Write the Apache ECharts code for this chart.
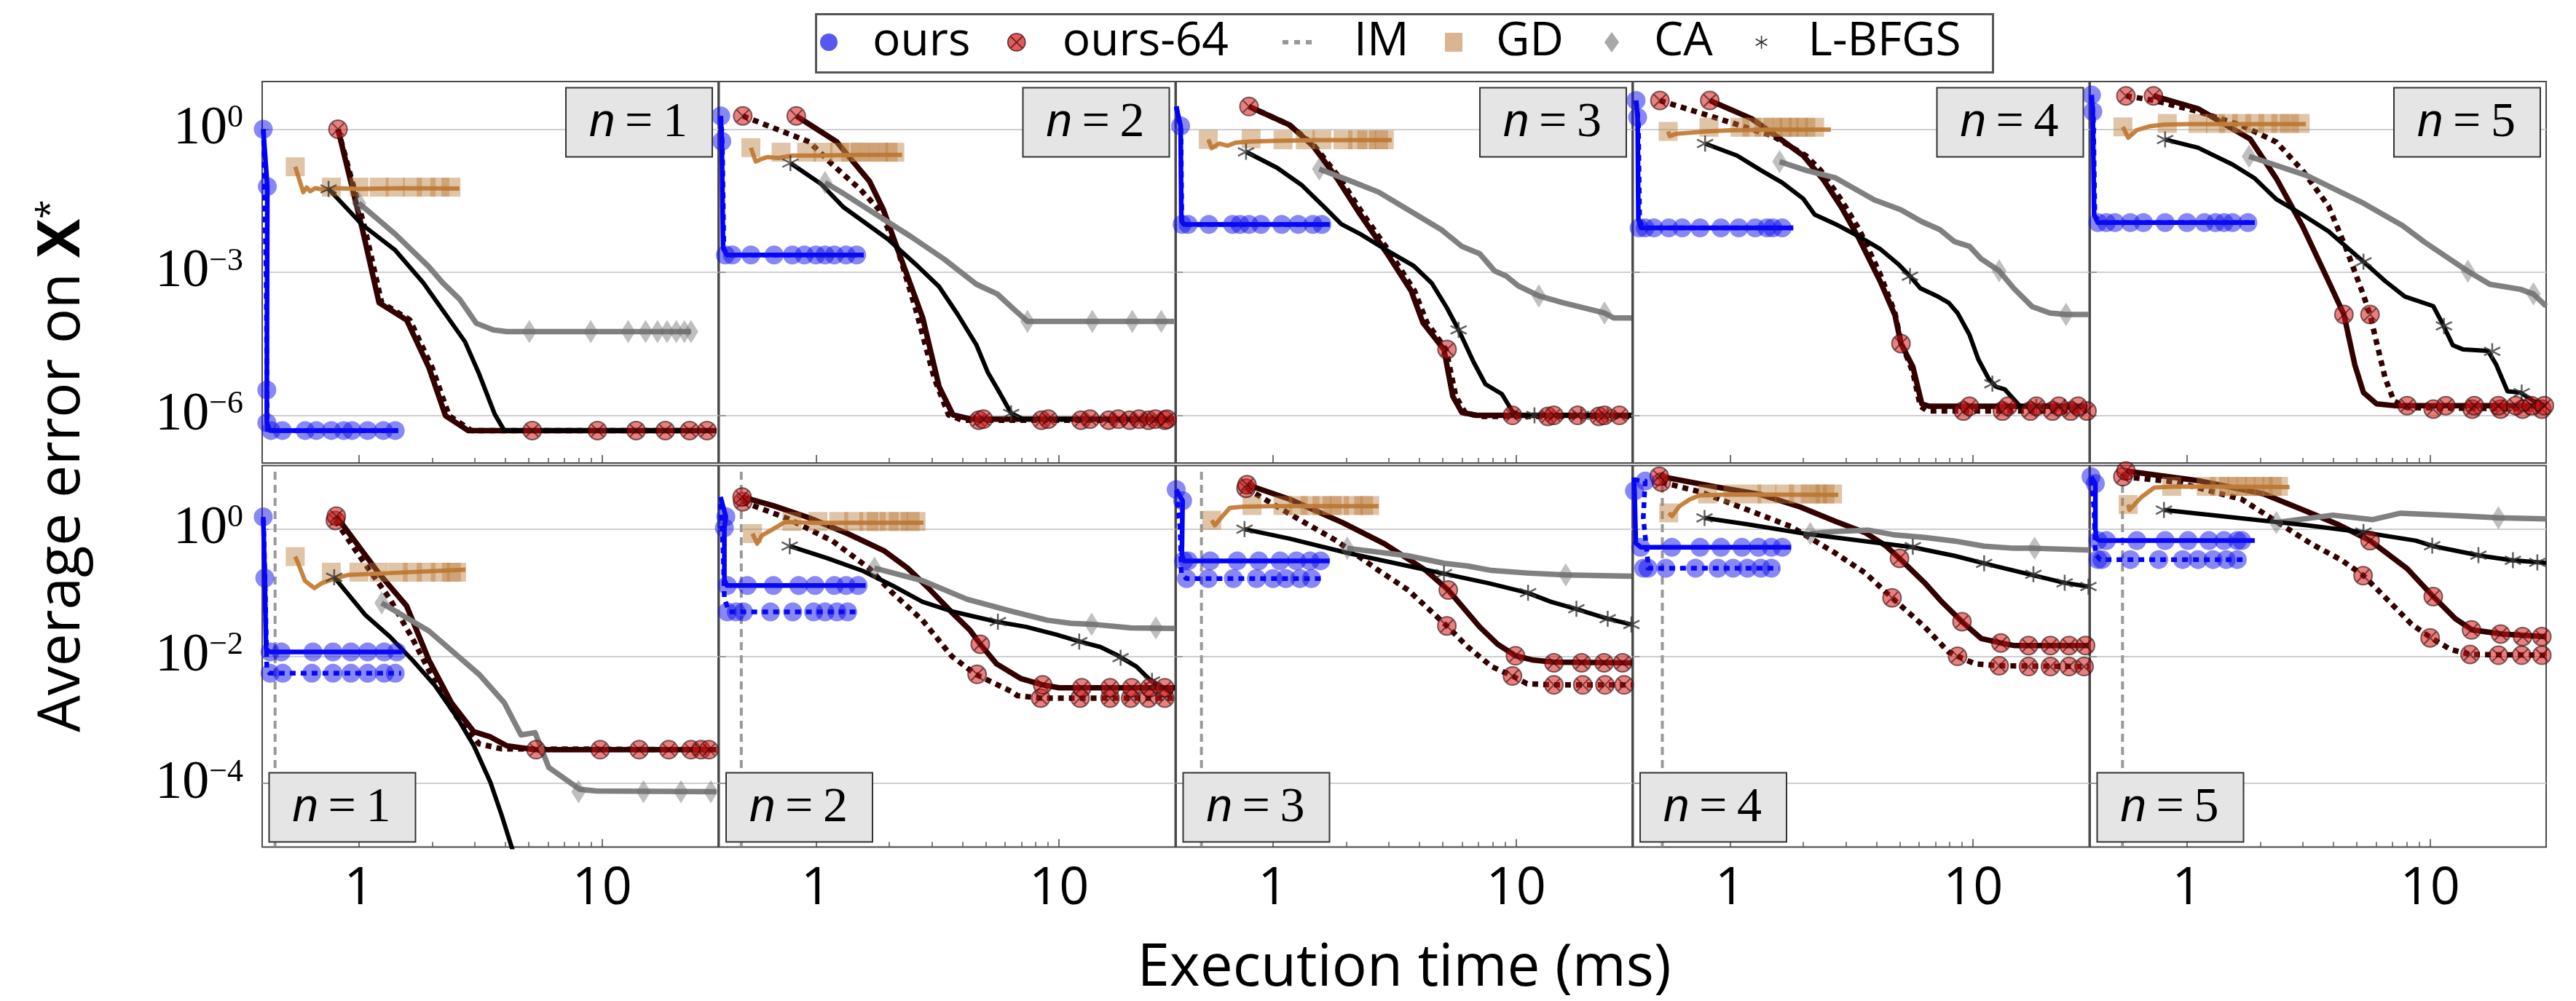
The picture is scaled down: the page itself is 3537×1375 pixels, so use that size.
<!DOCTYPE html>
<html><head><meta charset="utf-8">
<script src="https://cdn.jsdelivr.net/npm/echarts@6/dist/echarts.min.js"></script>
<style>html,body{margin:0;padding:0;background:#fff}#c{width:3537px;height:1375px}</style>
</head><body><div id="c"></div>
<script>
// ---------------- axes ----------------
const xMajorTicks = [1, 10];
const xMinorTicks = [2, 3, 4, 5, 6, 7, 8, 9];
const yTicksTop = [1, 1e-3, 1e-6];
const yTicksBottom = [1, 1e-2, 1e-4];
const panelLabels = ['1', '2', '3', '4', '5'];
const legendNames = ['ours', 'ours-64', 'IM', 'GD', 'CA', 'L-BFGS'];

// ---------------- top row, n = 1 ----------------
const t1_ours = [[0.404,1],[0.42,0.063],[0.418,3.4e-6],[0.418,7e-7],[0.43,4.8e-7],[1.45,4.8e-7]];
const t1_ours_mk = [[0.404,1],[0.42,0.063],[0.418,3.4e-6],[0.418,7e-7],[0.435,4.8e-7],[0.484,4.8e-7],[0.601,4.8e-7],[0.668,4.8e-7],[0.77,4.8e-7],[0.865,4.8e-7],[0.937,4.8e-7],[1.086,4.8e-7],[1.26,4.8e-7],[1.41,4.8e-7]];
const t1_oursD = [[0.405,1],[0.415,1e-3],[0.42,5e-7],[0.45,4.8e-7],[1.45,4.8e-7]];
const t1_oursD_mk = [];
const t1_o64 = [[0.82,1],[1.03,8.5e-3],[1.21,2.3e-4],[1.57,1e-4],[1.94,1e-5],[2.27,9.8e-7],[2.81,4.8e-7],[29.5,4.8e-7]];
const t1_o64_mk = [[0.82,1],[5.16,4.8e-7],[9.57,4.8e-7],[13.8,4.8e-7],[18.2,4.8e-7],[22.9,4.8e-7],[27,4.8e-7]];
const t1_o64D = [[0.82,1],[1.06,8e-3],[1.24,2.3e-4],[1.62,1e-4],[2.0,1e-5],[2.35,9.8e-7],[2.9,4.8e-7],[29.5,4.8e-7]];
const t1_o64D_mk = [];
const t1_gd = [[0.547,0.163],[0.59,0.048],[0.61,0.06],[0.63,0.05],[0.66,0.058],[0.72,0.054],[0.8,0.058],[1.0,0.056],[1.5,0.058],[2.59,0.057]];
const t1_gd_mk = [[0.547,0.163],[0.77,0.061],[1.0,0.061],[1.21,0.061],[1.41,0.061],[1.66,0.061],[1.89,0.061],[2.15,0.061],[2.39,0.061]];
const t1_ca = [[1.0,0.028],[1.41,6.3e-3],[1.94,1.3e-3],[2.21,6e-4],[2.59,2.75e-4],[3.04,8.5e-5],[3.56,6.2e-5],[4.06,5.7e-5],[23.2,5.7e-5]];
const t1_ca_mk = [[1.0,0.028],[5.02,5.7e-5],[8.98,5.7e-5],[12.8,5.7e-5],[15.1,5.7e-5],[16.9,5.7e-5],[18.5,5.7e-5],[20.2,5.7e-5],[21.8,5.7e-5],[23.2,5.7e-5]];
const t1_lb = [[0.75,0.056],[1.03,0.01],[1.41,2.9e-3],[1.84,6e-4],[2.73,3.5e-5],[3.12,7.4e-6],[3.62,1.05e-6],[3.96,4.8e-7],[29.5,4.8e-7]];
const t1_lb_mk = [[0.75,0.056]];

// ---------------- top row, n = 2 ----------------
const t2_ours = [[0.406,1.9],[0.41,0.56],[0.415,3.2e-3],[0.43,2.3e-3],[1.57,2.3e-3]];
const t2_ours_mk = [[0.406,1.9],[0.41,0.56],[0.424,2.3e-3],[0.453,2.3e-3],[0.54,2.3e-3],[0.673,2.3e-3],[0.8,2.3e-3],[0.896,2.3e-3],[1.0,2.3e-3],[1.09,2.3e-3],[1.19,2.3e-3],[1.33,2.3e-3],[1.47,2.3e-3]];
const t2_oursD = [[0.406,1.9],[0.412,0.5],[0.418,3e-3],[0.44,2.3e-3],[1.57,2.3e-3]];
const t2_oursD_mk = [];
const t2_o64 = [[0.83,1.9],[1.22,0.54],[1.39,0.24],[1.66,0.081],[1.89,0.021],[2.16,3.2e-3],[2.75,1.1e-4],[3.21,4e-6],[3.66,1.02e-6],[4.37,8.3e-7],[29.7,8.3e-7]];
const t2_o64_mk = [[0.83,1.9],[4.88,8.3e-7],[9.03,8.3e-7],[13.4,8.3e-7],[17.5,8.3e-7],[21.3,8.3e-7],[24.9,8.3e-7],[27.8,8.3e-7]];
const t2_o64D = [[0.5,1.9],[0.94,0.54],[1.17,0.18],[1.52,0.055],[1.81,0.021],[2.16,3.2e-3],[2.57,1.7e-4],[3.07,5.9e-6],[3.51,1.02e-6],[4.0,7.9e-7],[29.7,7.9e-7]];
const t2_o64D_mk = [[0.5,1.9],[4.67,7.9e-7],[8.46,7.9e-7],[12.3,7.9e-7],[16.0,7.9e-7],[19.5,7.9e-7],[23.3,7.9e-7],[27.2,7.9e-7]];
const t2_gd = [[0.54,0.41],[0.565,0.21],[0.6,0.24],[0.63,0.26],[0.7,0.25],[0.8,0.28],[1.0,0.28],[1.5,0.29],[2.26,0.29]];
const t2_gd_mk = [[0.54,0.41],[0.719,0.33],[0.916,0.33],[1.07,0.33],[1.25,0.33],[1.39,0.33],[1.52,0.33],[1.66,0.33],[1.81,0.33],[1.98,0.33],[2.11,0.33]];
const t2_ca = [[1.09,0.076],[1.27,0.048],[2.47,5.5e-3],[3.36,1.9e-3],[4.57,5.6e-4],[5.57,3.5e-4],[6.5,1.7e-4],[7.41,9.3e-5],[29.7,9.3e-5]];
const t2_ca_mk = [[1.09,0.076],[7.41,9.3e-5],[13.7,9.3e-5],[20,9.3e-5],[26.3,9.3e-5]];
const t2_lb = [[0.785,0.195],[1.05,0.071],[1.3,0.023],[1.98,4.9e-3],[2.58,1.45e-3],[3.21,5e-4],[3.83,1.3e-4],[4.57,3e-5],[5.1,7.8e-6],[5.69,3e-6],[6.35,1.1e-6],[7.1,8.3e-7],[29.7,8.3e-7]];
const t2_lb_mk = [[0.785,0.195],[6.35,1.1e-6]];

// ---------------- top row, n = 3 ----------------
const t3_ours = [[0.40,3.0],[0.417,1.17],[0.42,0.012],[0.43,0.0101],[1.71,0.0101]];
const t3_ours_mk = [[0.417,1.17],[0.423,0.0101],[0.448,0.0101],[0.545,0.0101],[0.682,0.0101],[0.732,0.0101],[0.797,0.0101],[0.892,0.0101],[1.087,0.0101],[1.27,0.0101],[1.46,0.0101],[1.59,0.0101]];
const t3_oursD = [[0.40,3.0],[0.418,1.0],[0.422,0.012],[0.44,0.0101],[1.71,0.0101]];
const t3_oursD_mk = [];
const t3_o64 = [[0.797,3.0],[1.17,1.23],[1.46,0.45],[1.83,0.095],[2.29,0.016],[2.95,2.45e-3],[3.7,4.1e-4],[4.14,8.7e-5],[5.05,2.4e-5],[5.49,2.5e-6],[5.98,1.15e-6],[6.88,1.0e-6],[29.8,1.0e-6]];
const t3_o64_mk = [[0.797,3.0],[5.2,2.4e-5],[9.66,1e-6],[14.3,1e-6],[17.9,1e-6],[23.1,1e-6],[26.6,1e-6]];
const t3_o64D = [[0.797,3.0],[1.17,1.23],[1.48,0.45],[1.88,0.095],[2.36,0.016],[3.05,2.45e-3],[3.82,4.1e-4],[4.3,8.7e-5],[5.15,2.4e-5],[5.65,2.5e-6],[6.2,1.1e-6],[7.2,9.5e-7],[29.8,9.5e-7]];
const t3_o64D_mk = [[13.5,9.5e-7],[21.9,9.5e-7]];
const t3_gd = [[0.542,0.61],[0.56,0.4],[0.6,0.5],[0.65,0.45],[0.7,0.52],[0.8,0.55],[1.0,0.57],[1.5,0.59],[3.08,0.59]];
const t3_gd_mk = [[0.542,0.61],[0.813,0.63],[1.1,0.6],[1.36,0.6],[1.59,0.6],[1.94,0.6],[2.23,0.6],[2.43,0.6],[2.72,0.6],[2.87,0.6]];
const t3_ca = [[1.55,0.146],[2.05,0.085],[2.72,0.048],[3.6,0.0204],[4.91,7.9e-3],[5.98,3.5e-3],[7.08,2.45e-3],[8.15,1.07e-3],[9.12,8.3e-4],[10.2,5.2e-4],[12.4,3.2e-4],[15.6,2.3e-4],[23.1,1.4e-4],[25.2,1.1e-4],[29.8,1.1e-4]];
const t3_ca_mk = [[1.55,0.146],[12.4,3.2e-4],[23.1,1.4e-4]];
const t3_lb = [[0.775,0.336],[1.04,0.155],[1.31,0.068],[1.63,0.023],[1.91,0.0102],[2.29,6.3e-3],[2.87,3.1e-3],[3.8,1.35e-3],[4.5,5.9e-4],[5.19,1.8e-4],[5.8,6.2e-5],[6.69,1.3e-5],[7.48,4.5e-6],[8.74,2.8e-6],[9.66,1.2e-6],[10.5,1e-6],[29.8,1e-6]];
const t3_lb_mk = [[0.775,0.336],[5.8,6.2e-5],[11.9,1e-6],[18.5,1e-6],[23.8,1e-6]];

// ---------------- top row, n = 4 ----------------
const t4_ours = [[0.411,4.0],[0.417,1.77],[0.42,0.013],[0.43,8.5e-3],[1.82,8.5e-3]];
const t4_ours_mk = [[0.411,4.0],[0.417,1.77],[0.423,8.5e-3],[0.448,8.5e-3],[0.487,8.5e-3],[0.56,8.5e-3],[0.636,8.5e-3],[0.753,8.5e-3],[0.918,8.5e-3],[1.087,8.5e-3],[1.27,8.5e-3],[1.42,8.5e-3],[1.5,8.5e-3],[1.64,8.5e-3]];
const t4_oursD = [[0.411,4.0],[0.42,1.5],[0.425,0.012],[0.44,8.5e-3],[1.82,8.5e-3]];
const t4_oursD_mk = [];
const t4_o64 = [[0.826,4.0],[1.23,1.66],[1.55,0.72],[2.0,0.28],[2.43,0.085],[2.87,0.0234],[3.4,5e-3],[4.14,6.6e-4],[4.77,1.26e-4],[5.05,3.2e-5],[5.65,1.05e-5],[6.15,1.74e-6],[6.6,1.55e-6],[29.4,1.55e-6]];
const t4_o64_mk = [[0.826,4.0],[5.05,3.2e-5],[9.66,1.55e-6],[13.9,1.55e-6],[18.2,1.55e-6],[22.5,1.55e-6],[27.0,1.55e-6]];
const t4_o64D = [[0.515,4.0],[1.01,1.38],[1.5,0.72],[2.05,0.28],[2.36,0.138],[2.87,0.033],[3.4,7.9e-3],[4.14,9.3e-4],[4.77,1.4e-4],[5.05,3.4e-5],[5.65,8.1e-6],[6.07,1.55e-6],[6.5,1.23e-6],[29.4,1.23e-6]];
const t4_o64D_mk = [[0.515,4.0],[9.12,1.23e-6],[13.2,1.23e-6],[17.2,1.23e-6],[21.2,1.23e-6],[25.2,1.23e-6],[29.4,1.23e-6]];
const t4_gd = [[0.557,0.9],[0.565,0.72],[0.6,0.8],[0.7,0.85],[0.8,0.9],[1.0,0.95],[1.5,0.98],[2.6,0.98]];
const t4_gd_mk = [[0.557,0.9],[0.82,1.1],[1.1,1.1],[1.23,1.1],[1.38,1.1],[1.5,1.1],[1.64,1.1],[1.75,1.1],[1.91,1.1],[2.05,1.1],[2.23,1.1]];
const t4_ca = [[1.6,0.209],[2.05,0.138],[2.72,0.095],[3.92,0.033],[5.05,0.0204],[6.15,0.0115],[7.28,7.9e-3],[8.38,4.4e-3],[9.66,3.5e-3],[10.8,1.9e-3],[12.8,1.07e-3],[14.7,4.6e-4],[17.5,1.9e-4],[20.7,1.4e-4],[24.1,1.3e-4],[29.8,1.3e-4]];
const t4_ca_mk = [[1.6,0.209],[12.8,1.07e-3],[24.1,1.3e-4]];
const t4_lb = [[0.79,0.5],[1.07,0.28],[1.34,0.138],[1.64,0.076],[2.0,0.035],[2.23,0.0162],[2.72,0.0102],[3.4,5.6e-3],[4.14,3.1e-3],[4.91,1.5e-3],[5.5,8.3e-4],[6.07,4.6e-4],[7.08,3.2e-4],[7.93,2.3e-4],[8.63,1.4e-4],[9.66,4.9e-5],[10.5,1.5e-5],[11.6,5.8e-6],[12.4,4e-6],[13.5,3.5e-6],[15.6,1.55e-6],[29.4,1.5e-6]];
const t4_lb_mk = [[0.79,0.5],[5.5,8.3e-4],[12.0,4.6e-6],[18.2,1.5e-6],[23.8,1.5e-6]];

// ---------------- top row, n = 5 ----------------
const t5_ours = [[0.405,5.2],[0.41,2.35],[0.415,0.016],[0.43,0.011],[1.9,0.011]];
const t5_ours_mk = [[0.405,5.2],[0.41,2.35],[0.43,0.011],[0.466,0.011],[0.506,0.011],[0.585,0.011],[0.662,0.011],[0.813,0.011],[1.0,0.011],[1.18,0.011],[1.31,0.011],[1.42,0.011],[1.54,0.011],[1.78,0.011]];
const t5_oursD = [[0.405,5.2],[0.412,2.0],[0.418,0.015],[0.44,0.011],[1.9,0.011]];
const t5_oursD_mk = [];
const t5_o64 = [[0.728,5.0],[1.11,2.7],[1.82,0.62],[2.33,0.093],[2.98,9.5e-3],[3.82,6.5e-4],[4.42,1.3e-4],[4.9,1.15e-5],[5.32,3e-6],[6.02,1.74e-6],[7.1,1.6e-6],[29.5,1.6e-6]];
const t5_o64_mk = [[0.728,5.0],[4.42,1.3e-4],[8.04,1.6e-6],[11.6,1.6e-6],[15.2,1.6e-6],[19.1,1.6e-6],[22.5,1.6e-6],[26.1,1.6e-6],[29.5,1.6e-6]];
const t5_o64D = [[0.561,5.0],[0.734,4.0],[1.11,2.35],[1.68,1.2],[2.33,0.54],[2.98,0.138],[3.82,0.0245],[4.51,3.2e-3],[5.32,3.3e-4],[5.66,1.3e-4],[6.02,3.4e-5],[6.54,5.9e-6],[7.1,2e-6],[8.04,1.45e-6],[29.5,1.35e-6]];
const t5_o64D_mk = [[0.561,5.0],[5.66,1.3e-4],[10.3,1.35e-6],[14.9,1.35e-6],[19.5,1.35e-6],[24.0,1.35e-6],[28.8,1.35e-6]];
const t5_gd = [[0.545,1.12],[0.573,0.66],[0.62,0.95],[0.7,1.15],[0.8,1.25],[1.0,1.28],[3.08,1.28]];
const t5_gd_mk = [[0.545,1.12],[0.83,1.32],[1.11,1.32],[1.31,1.32],[1.48,1.32],[1.68,1.32],[1.9,1.32],[2.15,1.32],[2.43,1.32],[2.64,1.32],[2.92,1.32]];
const t5_ca = [[1.8,0.27],[3.11,0.107],[5.32,0.028],[7.71,9.5e-3],[9.48,4.3e-3],[14.3,1.05e-3],[17.6,5.6e-4],[23.5,4.4e-4],[26.6,3.5e-4],[30,1.95e-4]];
const t5_ca_mk = [[1.8,0.27],[14.3,1.05e-3],[26.6,3.5e-4]];
const t5_lb = [[0.813,0.61],[1.11,0.41],[1.54,0.182],[1.9,0.093],[2.33,0.034],[2.98,0.0162],[3.82,7.2e-3],[5.32,1.66e-3],[6.54,6.5e-4],[7.87,3.1e-4],[10.3,1.95e-4],[11.2,8.7e-5],[12.4,2.95e-5],[13.7,2.4e-5],[17.3,2.25e-5],[18.7,1.15e-5],[20.8,3.2e-6],[23.5,3e-6],[26.6,2e-6],[30,1.6e-6]];
const t5_lb_mk = [[0.813,0.61],[5.32,1.66e-3],[11.4,7.5e-5],[18.0,2.2e-5],[23.8,3e-6]];

// ---------------- bottom row, n = 1 ----------------
const b1_im = [[0.452,8],[0.452,1e-5]];
const b1_ours = [[0.404,1.56],[0.41,0.17],[0.415,0.013],[0.43,0.0117],[1.51,0.0117]];
const b1_ours_mk = [[0.404,1.56],[0.41,0.17],[0.431,0.0117],[0.479,0.0117],[0.647,0.0117],[0.782,0.0117],[0.927,0.0117],[1.086,0.0117],[1.27,0.0117],[1.43,0.0117]];
const b1_oursD = [[0.405,1.4],[0.412,0.1],[0.418,6e-3],[0.43,5.4e-3],[1.49,5.4e-3]];
const b1_oursD_mk = [[0.431,5.4e-3],[0.486,5.4e-3],[0.64,5.4e-3],[0.782,5.4e-3],[0.927,5.4e-3],[1.086,5.4e-3],[1.27,5.4e-3],[1.41,5.4e-3]];
const b1_o64 = [[0.807,1.6],[1.21,0.2],[1.57,0.062],[1.94,8.7e-3],[2.4,1.86e-3],[2.97,6.5e-4],[3.47,5.4e-4],[4.06,3.9e-4],[5.3,3.4e-4],[29.5,3.4e-4]];
const b1_o64_mk = [[0.807,1.6],[5.35,3.4e-4],[9.82,3.4e-4],[14.2,3.4e-4],[18.8,3.4e-4],[23.2,3.4e-4],[25.5,3.4e-4],[27.5,3.4e-4]];
const b1_o64D = [[0.8,1.37],[0.977,0.44],[1.34,0.08],[1.66,0.019],[2.05,4e-3],[2.53,1.1e-3],[3.12,4.2e-4],[3.86,3.5e-4],[29.5,3.4e-4]];
const b1_o64D_mk = [[0.8,1.37]];
const b1_gd = [[0.547,0.37],[0.56,0.3],[0.6,0.154],[0.656,0.118],[0.7,0.14],[0.79,0.166],[0.9,0.19],[1.2,0.2],[2.74,0.23]];
const b1_gd_mk = [[0.547,0.37],[0.77,0.21],[1.0,0.21],[1.21,0.21],[1.45,0.21],[1.66,0.21],[1.89,0.21],[2.16,0.21],[2.4,0.21],[2.52,0.21]];
const b1_ca = [[1.24,0.069],[1.94,0.025],[3.12,5.2e-3],[3.96,1.86e-3],[4.64,5.8e-4],[5.3,6.3e-4],[6.04,1.78e-4],[8.08,8.1e-5],[9.47,7.6e-5],[29.5,7.4e-5]];
const b1_ca_mk = [[1.24,0.069],[8.0,7.4e-5],[14.8,7.4e-5],[21.1,7.4e-5],[28.0,7.4e-5]];
const b1_lb = [[0.791,0.175],[1.06,0.045],[1.34,0.0204],[1.66,8.7e-3],[2.05,3.5e-3],[2.53,1.1e-3],[2.97,3.9e-4],[3.47,1.05e-4],[3.86,3.2e-5],[4.24,1.02e-5],[4.52,4.7e-6]];
const b1_lb_mk = [[0.791,0.175]];

// ---------------- bottom row, n = 2 ----------------
const b2_im = [[0.493,8],[0.493,1e-5]];
const b2_ours = [[0.405,3.2],[0.426,1.57],[0.42,1.05],[0.42,0.16],[0.43,0.13],[1.6,0.13]];
const b2_ours_mk = [[0.426,1.57],[0.42,1.05],[0.432,0.13],[0.522,0.13],[0.668,0.13],[0.849,0.13],[0.991,0.13],[1.19,0.13],[1.33,0.13],[1.49,0.13]];
const b2_oursD = [[0.405,2.5],[0.415,0.5],[0.42,0.08],[0.44,0.05],[1.47,0.05]];
const b2_oursD_mk = [[0.432,0.05],[0.47,0.05],[0.504,0.05],[0.65,0.05],[0.803,0.05],[0.978,0.05],[1.09,0.05],[1.22,0.05],[1.35,0.05]];
const b2_o64 = [[0.497,3.2],[0.668,2.34],[0.937,1.51],[1.35,0.85],[1.9,0.46],[2.38,0.245],[2.89,0.12],[3.62,0.049],[4.29,0.026],[4.74,0.0155],[5.53,7.6e-3],[6.93,4.5e-3],[8.56,3.55e-3],[10.0,3.2e-3],[30,3.2e-3]];
const b2_o64_mk = [[0.497,3.2],[4.74,0.0155],[8.56,3.55e-3],[12.4,3.2e-3],[16.2,3.2e-3],[19.9,3.2e-3],[23.6,3.2e-3],[27.2,3.2e-3]];
const b2_o64D = [[0.5,2.7],[0.77,1.45],[1.17,0.65],[1.65,0.245],[2.06,0.1],[2.74,0.037],[3.62,0.01],[4.54,5.2e-3],[6.37,2.8e-3],[6.74,2.4e-3],[8.45,2.2e-3],[30,2.2e-3]];
const b2_o64D_mk = [[0.5,2.7],[4.6,5.2e-3],[8.4,2.2e-3],[12.2,2.2e-3],[16.2,2.2e-3],[19.7,2.2e-3],[23.3,2.2e-3],[27.2,2.2e-3]];
const b2_gd = [[0.548,0.85],[0.573,0.59],[0.6,0.8],[0.65,0.95],[0.748,1.3],[1.0,1.25],[2.77,1.26]];
const b2_gd_mk = [[0.548,0.85],[0.796,1.32],[1.02,1.32],[1.24,1.32],[1.43,1.32],[1.65,1.32],[1.77,1.32],[2.0,1.32],[2.18,1.32],[2.44,1.32],[2.58,1.32]];
const b2_ca = [[1.74,0.243],[2.74,0.155],[4.18,0.079],[6.37,0.051],[8.93,0.037],[11.2,0.033],[13.6,0.032],[19.7,0.028],[30,0.0275]];
const b2_ca_mk = [[1.74,0.243],[13.6,0.032],[25.0,0.028]];
const b2_lb = [[0.78,0.54],[1.11,0.35],[1.56,0.22],[2.06,0.13],[2.74,0.072],[3.62,0.051],[5.53,0.035],[7.33,0.029],[9.72,0.022],[12.2,0.017],[14.8,0.014],[17.1,0.0107],[20.8,6.9e-3],[23.9,4.1e-3],[29.2,2.6e-3]];
const b2_lb_mk = [[0.78,0.54],[5.6,0.035],[12.1,0.017],[17.9,9.5e-3],[24.1,4.1e-3]];

// ---------------- bottom row, n = 3 ----------------
const b3_im = [[0.508,8],[0.508,1e-5]];
const b3_ours = [[0.40,4.2],[0.425,2.8],[0.422,0.4],[0.43,0.317],[1.71,0.317]];
const b3_ours_mk = [[0.40,4.2],[0.425,2.8],[0.429,0.317],[0.448,0.317],[0.552,0.317],[0.713,0.317],[0.875,0.317],[1.07,0.317],[1.25,0.317],[1.42,0.317],[1.57,0.317]];
const b3_oursD = [[0.402,4.0],[0.415,1.0],[0.42,0.2],[0.44,0.167],[1.62,0.167]];
const b3_oursD_mk = [[0.441,0.167],[0.542,0.167],[0.687,0.167],[0.855,0.167],[1.0,0.167],[1.13,0.167],[1.29,0.167],[1.44,0.167]];
const b3_o64 = [[0.782,5.0],[1.17,2.95],[1.94,1.26],[2.87,0.59],[4.26,0.224],[5.26,0.11],[7.08,0.029],[8.39,0.0155],[9.94,0.0102],[11.8,8.7e-3],[14.3,8.1e-3],[30,7.9e-3]];
const b3_o64_mk = [[0.782,5.0],[5.26,0.11],[9.94,0.0102],[14.3,7.9e-3],[18.6,7.9e-3],[23.0,7.9e-3],[27.4,7.9e-3]];
const b3_o64D = [[0.775,4.4],[1.17,1.74],[1.83,0.65],[2.72,0.224],[3.6,0.11],[5.19,0.03],[6.32,0.0141],[7.93,6.9e-3],[9.66,4.9e-3],[11.1,3.7e-3],[14.3,3.55e-3],[30,3.55e-3]];
const b3_o64D_mk = [[0.775,4.4],[5.19,0.03],[9.66,4.9e-3],[14.3,3.55e-3],[18.8,3.55e-3],[23.2,3.55e-3],[27.8,3.55e-3]];
const b3_gd = [[0.56,1.38],[0.577,1.15],[0.62,1.6],[0.664,2.15],[0.75,2.25],[1.0,2.3],[2.72,2.3]];
const b3_gd_mk = [[0.56,1.38],[0.82,2.35],[1.1,2.35],[1.27,2.35],[1.42,2.35],[1.59,2.35],[1.75,2.35],[1.88,2.35],[2.14,2.35],[2.36,2.35],[2.5,2.35]];
const b3_ca = [[2.02,0.5],[3.6,0.38],[5.05,0.29],[6.32,0.263],[7.93,0.224],[11.1,0.204],[16.0,0.19],[29.8,0.182]];
const b3_ca_mk = [[2.02,0.5],[16.0,0.19]];
const b3_lb = [[0.764,1.0],[1.17,0.71],[2.05,0.417],[3.6,0.263],[5.19,0.195],[7.71,0.141],[11.1,0.1],[13.9,0.072],[17.5,0.056],[23.8,0.039],[29.8,0.0316]];
const b3_lb_mk = [[0.764,1.0],[5.05,0.2],[11.2,0.1],[17.7,0.056],[23.8,0.039],[29.8,0.0316]];

// ---------------- bottom row, n = 4 ----------------
const b4_im = [[0.527,8],[0.527,1e-5]];
const b4_ours = [[0.402,6.5],[0.405,4.0],[0.41,0.6],[0.43,0.518],[1.78,0.518]];
const b4_ours_mk = [[0.405,4.0],[0.429,0.518],[0.577,0.518],[0.753,0.518],[0.918,0.518],[1.12,0.518],[1.31,0.518],[1.48,0.518],[1.64,0.518]];
const b4_oursD = [[0.402,6.0],[0.448,5.7],[0.44,1.5],[0.46,0.3],[0.46,0.243],[1.59,0.243]];
const b4_oursD_mk = [[0.448,5.7],[0.441,0.243],[0.46,0.243],[0.545,0.243],[0.722,0.243],[0.892,0.243],[1.03,0.243],[1.18,0.243],[1.34,0.243],[1.48,0.243]];
const b4_o64 = [[0.512,6.8],[0.88,4.6],[1.34,3.5],[1.94,2.24],[2.72,1.32],[3.6,0.88],[4.39,0.54],[4.98,0.347],[6.32,0.143],[7.48,0.07],[9.0,0.035],[10.8,0.019],[13.0,0.0162],[14.7,0.0148],[30,0.0148]];
const b4_o64_mk = [[0.512,6.8],[4.98,0.347],[9.0,0.035],[13.0,0.0162],[16.9,0.0148],[20.8,0.0148],[24.8,0.0148],[29.0,0.0148]];
const b4_o64D = [[0.522,5.5],[0.764,3.8],[1.17,2.04],[1.78,1.1],[2.72,0.417],[3.6,0.204],[4.64,0.083],[6.32,0.029],[7.93,0.0117],[8.63,0.01],[10.2,7.6e-3],[12.8,7.1e-3],[30,6.9e-3]];
const b4_o64D_mk = [[0.522,5.5],[4.64,0.083],[8.63,0.01],[12.8,7.1e-3],[16.9,6.9e-3],[20.8,6.9e-3],[24.8,6.9e-3],[28.6,6.9e-3]];
const b4_gd = [[0.56,1.8],[0.577,1.6],[0.62,2.3],[0.683,2.93],[0.75,3.4],[1.0,3.5],[2.79,3.45]];
const b4_gd_mk = [[0.56,1.8],[0.809,3.57],[1.03,3.57],[1.23,3.57],[1.42,3.57],[1.68,3.57],[1.91,3.57],[2.14,3.57],[2.29,3.57],[2.46,3.57],[2.64,3.57]];
const b4_ca = [[2.14,0.85],[2.72,0.92],[3.7,0.966],[4.77,0.81],[6.32,0.74],[8.39,0.65],[11.1,0.54],[14.7,0.5],[17.9,0.5],[29.8,0.47]];
const b4_ca_mk = [[2.14,0.85],[17.9,0.5]];
const b4_lb = [[0.786,1.5],[1.17,1.2],[2.05,0.845],[3.6,0.646],[5.65,0.518],[8.39,0.38],[11.1,0.29],[17.0,0.195],[23.8,0.143],[29.8,0.125]];
const b4_lb_mk = [[0.786,1.5],[5.65,0.53],[11.1,0.29],[17.7,0.195],[23.8,0.143],[29.8,0.125]];

// ---------------- bottom row, n = 5 ----------------
const b5_im = [[0.543,8],[0.543,1e-5]];
const b5_ours = [[0.403,6.7],[0.42,5.2],[0.42,1.0],[0.425,0.7],[0.44,0.66],[1.9,0.66]];
const b5_ours_mk = [[0.403,6.7],[0.42,5.2],[0.43,0.66],[0.466,0.66],[0.622,0.66],[0.813,0.66],[1.01,0.66],[1.23,0.66],[1.42,0.66],[1.61,0.66],[1.68,0.66]];
const b5_oursD = [[0.405,6.0],[0.415,2.0],[0.42,0.4],[0.44,0.332],[1.71,0.332]];
const b5_oursD_mk = [[0.43,0.332],[0.447,0.332],[0.585,0.332],[0.765,0.332],[0.96,0.332],[1.11,0.332],[1.28,0.332],[1.45,0.332],[1.61,0.332]];
const b5_o64 = [[0.561,8.2],[1.11,5.8],[2.06,3.6],[3.11,1.9],[4.15,1.2],[5.66,0.66],[8.04,0.24],[10.3,0.087],[12.7,0.039],[14.9,0.026],[19.9,0.0224],[30,0.0204]];
const b5_o64_mk = [[0.561,8.2],[5.66,0.66],[10.3,0.087],[14.8,0.026],[19.5,0.0224],[24.0,0.0204],[28.8,0.0204]];
const b5_o64D = [[0.545,6.7],[0.902,5.5],[1.68,2.95],[2.33,1.32],[3.24,0.59],[4.33,0.324],[5.32,0.186],[6.81,0.072],[8.38,0.032],[10.1,0.0195],[12.1,0.0129],[14.6,0.0107],[30,0.0104]];
const b5_o64D_mk = [[0.545,6.7],[5.3,0.186],[10.0,0.0195],[14.6,0.0107],[19.1,0.0104],[23.8,0.0104],[28.8,0.0104]];
const b5_gd = [[0.573,2.44],[0.58,2.0],[0.65,3.2],[0.734,4.5],[0.9,4.7],[2.64,4.6]];
const b5_gd_mk = [[0.573,2.44],[0.865,4.7],[1.2,4.7],[1.36,4.7],[1.48,4.7],[1.61,4.7],[1.75,4.7],[1.9,4.7],[2.06,4.7],[2.24,4.7],[2.38,4.7]];
const b5_ca = [[2.33,1.27],[3.98,1.66],[5.78,1.41],[7.56,1.78],[13.2,1.62],[19.1,1.51],[30,1.45]];
const b5_ca_mk = [[2.33,1.27],[19.1,1.51]];
const b5_lb = [[0.804,2.0],[1.68,1.48],[3.11,1.15],[5.32,0.89],[8.73,0.66],[10.3,0.54],[16.2,0.38],[21.6,0.324],[30,0.295]];
const b5_lb_mk = [[0.804,2.0],[5.32,0.9],[10.2,0.55],[15.8,0.39],[21.9,0.324],[27.6,0.3]];

// ---------------- panel table ----------------
const panels = [
  {r:0,c:0,ours:t1_ours,oursMk:t1_ours_mk,oursD:t1_oursD,oursDMk:t1_oursD_mk,o64:t1_o64,o64Mk:t1_o64_mk,o64D:t1_o64D,o64DMk:t1_o64D_mk,gd:t1_gd,gdMk:t1_gd_mk,ca:t1_ca,caMk:t1_ca_mk,lb:t1_lb,lbMk:t1_lb_mk,im:null},
  {r:0,c:1,ours:t2_ours,oursMk:t2_ours_mk,oursD:t2_oursD,oursDMk:t2_oursD_mk,o64:t2_o64,o64Mk:t2_o64_mk,o64D:t2_o64D,o64DMk:t2_o64D_mk,gd:t2_gd,gdMk:t2_gd_mk,ca:t2_ca,caMk:t2_ca_mk,lb:t2_lb,lbMk:t2_lb_mk,im:null},
  {r:0,c:2,ours:t3_ours,oursMk:t3_ours_mk,oursD:t3_oursD,oursDMk:t3_oursD_mk,o64:t3_o64,o64Mk:t3_o64_mk,o64D:t3_o64D,o64DMk:t3_o64D_mk,gd:t3_gd,gdMk:t3_gd_mk,ca:t3_ca,caMk:t3_ca_mk,lb:t3_lb,lbMk:t3_lb_mk,im:null},
  {r:0,c:3,ours:t4_ours,oursMk:t4_ours_mk,oursD:t4_oursD,oursDMk:t4_oursD_mk,o64:t4_o64,o64Mk:t4_o64_mk,o64D:t4_o64D,o64DMk:t4_o64D_mk,gd:t4_gd,gdMk:t4_gd_mk,ca:t4_ca,caMk:t4_ca_mk,lb:t4_lb,lbMk:t4_lb_mk,im:null},
  {r:0,c:4,ours:t5_ours,oursMk:t5_ours_mk,oursD:t5_oursD,oursDMk:t5_oursD_mk,o64:t5_o64,o64Mk:t5_o64_mk,o64D:t5_o64D,o64DMk:t5_o64D_mk,gd:t5_gd,gdMk:t5_gd_mk,ca:t5_ca,caMk:t5_ca_mk,lb:t5_lb,lbMk:t5_lb_mk,im:null},
  {r:1,c:0,ours:b1_ours,oursMk:b1_ours_mk,oursD:b1_oursD,oursDMk:b1_oursD_mk,o64:b1_o64,o64Mk:b1_o64_mk,o64D:b1_o64D,o64DMk:b1_o64D_mk,gd:b1_gd,gdMk:b1_gd_mk,ca:b1_ca,caMk:b1_ca_mk,lb:b1_lb,lbMk:b1_lb_mk,im:b1_im},
  {r:1,c:1,ours:b2_ours,oursMk:b2_ours_mk,oursD:b2_oursD,oursDMk:b2_oursD_mk,o64:b2_o64,o64Mk:b2_o64_mk,o64D:b2_o64D,o64DMk:b2_o64D_mk,gd:b2_gd,gdMk:b2_gd_mk,ca:b2_ca,caMk:b2_ca_mk,lb:b2_lb,lbMk:b2_lb_mk,im:b2_im},
  {r:1,c:2,ours:b3_ours,oursMk:b3_ours_mk,oursD:b3_oursD,oursDMk:b3_oursD_mk,o64:b3_o64,o64Mk:b3_o64_mk,o64D:b3_o64D,o64DMk:b3_o64D_mk,gd:b3_gd,gdMk:b3_gd_mk,ca:b3_ca,caMk:b3_ca_mk,lb:b3_lb,lbMk:b3_lb_mk,im:b3_im},
  {r:1,c:3,ours:b4_ours,oursMk:b4_ours_mk,oursD:b4_oursD,oursDMk:b4_oursD_mk,o64:b4_o64,o64Mk:b4_o64_mk,o64D:b4_o64D,o64DMk:b4_o64D_mk,gd:b4_gd,gdMk:b4_gd_mk,ca:b4_ca,caMk:b4_ca_mk,lb:b4_lb,lbMk:b4_lb_mk,im:b4_im},
  {r:1,c:4,ours:b5_ours,oursMk:b5_ours_mk,oursD:b5_oursD,oursDMk:b5_oursD_mk,o64:b5_o64,o64Mk:b5_o64_mk,o64D:b5_o64D,o64DMk:b5_o64D_mk,gd:b5_gd,gdMk:b5_gd_mk,ca:b5_ca,caMk:b5_ca_mk,lb:b5_lb,lbMk:b5_lb_mk,im:b5_im}
];

// ---------------- styles ----------------
const GRID_LEFT0 = 360, GRID_STEP = 627.5, GRID_W = 626, GRID_H = 524;
const GRID_TOPS = [112, 639.5];
const SERIF = '"Liberation Serif","DejaVu Serif",serif';
const SANS = '"Open Sans","Lato","DejaVu Sans",sans-serif';

const SYM_O64 = 'path://M0,10 A10,10 0 1,1 20,10 A10,10 0 1,1 0,10 Z M3.5,3.5 L16.5,16.5 M16.5,3.5 L3.5,16.5';
const SYM_STAR = 'path://M10,0 L10,20 M1.3,5 L18.7,15 M18.7,5 L1.3,15';
const SYM_DOTS = 'path://M0,0 L8,0 L8,6 L0,6 Z M16,0 L24,0 L24,6 L16,6 Z M32,0 L40,0 L40,6 L32,6 Z';

const ST = {
  ours:  {line:{color:'#0000ff', width:6.5, type:'solid'}, sym:'circle', size:26, item:{color:'rgba(15,15,235,0.62)'}},
  oursD: {line:{color:'#0000ff', width:6.5, type:[8,7]}, sym:'circle', size:26, item:{color:'rgba(15,15,235,0.62)'}},
  o64:   {line:{color:'#330000', width:7.5, type:'solid'}, sym:SYM_O64, size:25, item:{color:'rgba(215,20,20,0.68)', borderColor:'rgba(40,10,10,0.75)', borderWidth:2}},
  o64D:  {line:{color:'#330000', width:7.5, type:[8,7]}, sym:SYM_O64, size:25, item:{color:'rgba(215,20,20,0.68)', borderColor:'rgba(40,10,10,0.75)', borderWidth:2}},
  gd:    {line:{color:'#c8823f', width:6, type:'solid'}, sym:'rect', size:26, item:{color:'rgba(185,120,55,0.55)'}},
  ca:    {line:{color:'#808080', width:7.5, type:'solid'}, sym:'diamond', size:[20,32], item:{color:'rgba(110,110,110,0.55)'}},
  lb:    {line:{color:'#000000', width:6, type:'solid'}, sym:SYM_STAR, size:22, item:{color:'rgba(0,0,0,0)', borderColor:'#3a3a3a', borderWidth:2.5}},
  im:    {line:{color:'#999999', width:4, type:[11,7]}}
};
const NAMES = {ours:'ours', oursD:'ours', o64:'ours-64', o64D:'ours-64', gd:'GD', ca:'CA', lb:'L-BFGS', im:'IM'};

const grids = [], xAxes = [], yAxes = [], series = [], graphics = [];

panels.forEach((p, i) => {
  const left = GRID_LEFT0 + p.c * GRID_STEP;
  const top = GRID_TOPS[p.r];
  grids.push({left: left, top: top, width: GRID_W, height: GRID_H, show: true,
    borderColor: '#4a4a4a', borderWidth: 2, backgroundColor: 'transparent',
    containLabel: false, outerBoundsMode: 'none'});
  xAxes.push({type:'log', logBase:10, min:0.4, max:30, gridIndex:i, position:'bottom',
    axisLine:{show:false}, splitLine:{show:false},
    axisTick:{show:true, inside:true, length:11, customValues:xMajorTicks, lineStyle:{color:'#444', width:1.5}},
    axisLabel:{show: p.r === 1, customValues:xMajorTicks, margin:22, fontSize:72, fontFamily:SANS, color:'#000',
      formatter: v => String(Math.round(v))}});
  xAxes.push({type:'log', logBase:10, min:0.4, max:30, gridIndex:i, position:'bottom',
    axisLine:{show:false}, splitLine:{show:false}, axisLabel:{show:false},
    axisTick:{show:true, inside:true, length:7, customValues:xMinorTicks, lineStyle:{color:'#555', width:1.5}}});
  const yt = p.r === 0 ? yTicksTop : yTicksBottom;
  const ymin = p.r === 0 ? 1e-7 : 1e-5;
  yAxes.push({type:'log', logBase:10, min:ymin, max:10, gridIndex:i, position:'left',
    axisLine:{show:false},
    splitLine:{show:true, lineStyle:{color:'#cfcfcf', width:2}},
    axisTick:{show:true, inside:true, length:9, customValues:yt, lineStyle:{color:'#999', width:2}},
    axisLabel:{show: p.c === 0, customValues:yt, margin:26, color:'#000',
      formatter: v => '{b|10}{e|' + String(Math.round(Math.log10(v))).replace('-', '\u2212') + '}',
      rich:{b:{fontFamily:SERIF, fontSize:74, lineHeight:74, color:'#000'},
            e:{fontFamily:SERIF, fontSize:44, lineHeight:44, verticalAlign:'top', color:'#000', padding:[0,0,34,0]}}}});

  const xi = 2 * i, yi = i;
  const addLine = (key, data, z) => {
    if (!data || !data.length) return;
    series.push({type:'line', name:NAMES[key], xAxisIndex:xi, yAxisIndex:yi, data:data,
      showSymbol:false, symbol:'none', lineStyle:Object.assign({cap:'butt', join:'round'}, ST[key].line),
      z:z, silent:true, animation:false, clip:true, emphasis:{disabled:true}});
  };
  const addMk = (key, data, z) => {
    if (!data || !data.length) return;
    series.push({type:'scatter', name:NAMES[key], xAxisIndex:xi, yAxisIndex:yi, data:data,
      symbol:ST[key].sym, symbolSize:ST[key].size, itemStyle:ST[key].item,
      z:z, silent:true, animation:false, clip:false, emphasis:{disabled:true}});
  };
  addLine('im', p.im, 2);
  addLine('o64D', p.o64D, 3);
  addLine('o64', p.o64, 3);
  addLine('gd', p.gd, 4);
  addLine('ca', p.ca, 4);
  addLine('lb', p.lb, 5);
  addLine('oursD', p.oursD, 6);
  addLine('ours', p.ours, 6);
  addMk('gd', p.gdMk, 7);
  addMk('ca', p.caMk, 7);
  addMk('lb', p.lbMk, 8);
  addMk('o64D', p.o64DMk, 8);
  addMk('o64', p.o64Mk, 8);
  addMk('oursD', p.oursDMk, 9);
  addMk('ours', p.oursMk, 9);

  // n = k annotation box
  const bw = 201, bh = 95;
  const bx = p.r === 0 ? left + GRID_W - 9 - bw : left + 8.5;
  const by = p.r === 0 ? top + 7.5 : top + GRID_H - 8 - bh;
  graphics.push({type:'rect', left:bx, top:by, z:20, shape:{width:bw, height:bh},
    style:{fill:'#e5e5e5', stroke:'#333', lineWidth:2}});
  graphics.push({type:'text', x:bx + bw/2, y:by + bh/2 + 2, z:21,
    style:{text:'{i|n}{r|\u2009=\u2009' + panelLabels[p.c] + '}', align:'center', verticalAlign:'middle',
      rich:{i:{fontFamily:'"Liberation Sans","DejaVu Sans",sans-serif', fontStyle:'italic', fontSize:64, fill:'#000'},
            r:{fontFamily:SERIF, fontSize:68, fill:'#000'}}}});
});

// ---------------- legend ----------------
const legendSpec = [
  {name:'ours',   left:1126, w:24, h:34, icon:'circle', item:{color:'rgba(15,15,235,0.7)'}, pad:43},
  {name:'ours-64',left:1383, w:24, h:24, icon:SYM_O64, item:{color:'rgba(215,20,20,0.7)', borderColor:'rgba(40,10,10,0.8)', borderWidth:1.5}, pad:46},
  {name:'IM',     left:1761, w:40, h:6,  icon:SYM_DOTS, item:{color:'#999'}, pad:53},
  {name:'GD',     left:1984, w:24, h:26, icon:'rect', item:{color:'rgba(185,120,55,0.55)'}, pad:41},
  {name:'CA',     left:2203, w:20, h:28, icon:'diamond', item:{color:'rgba(110,110,110,0.6)'}, pad:43},
  {name:'L-BFGS', left:2410, w:18, h:18, icon:SYM_STAR, item:{color:'rgba(0,0,0,0)', borderColor:'#333', borderWidth:1.5}, pad:50}
];
const legends = legendSpec.map(s => ({
  show:true, left:s.left, top:26, padding:0, itemGap:0, selectedMode:false,
  itemWidth:s.w, itemHeight:s.h, orient:'horizontal',
  data:[{name:s.name, icon:s.icon, itemStyle:s.item}],
  textStyle:{fontFamily:SANS, fontSize:64, lineHeight:64, color:'#000', padding:[0,0,0,s.pad]}
}));

graphics.push({type:'rect', left:1119, top:18, z:-1, shape:{width:1616, height:80},
  style:{fill:'#fff', stroke:'#555', lineWidth:3}});

// ---------------- axis titles ----------------
graphics.push({type:'text', x:1928, y:1331, z:20,
  style:{text:'Execution time (ms)', align:'center', verticalAlign:'middle', fontFamily:SANS, fontSize:80, fill:'#000'}});
graphics.push({type:'text', x:86, y:640, rotation:Math.PI/2, z:20,
  style:{text:'{n|Average error on }{x|X}{s|*}', align:'center', verticalAlign:'middle',
    rich:{n:{fontFamily:SANS, fontSize:80, fill:'#000'},
          x:{fontFamily:SANS, fontSize:80, fontWeight:'bold', fill:'#000'},
          s:{fontFamily:SANS, fontSize:48, fill:'#000', verticalAlign:'top', padding:[0,0,30,0]}}}});

const chart = echarts.init(document.getElementById('c'), null, {renderer:'canvas', width:3537, height:1375});
chart.setOption({
  animation:false,
  backgroundColor:'#ffffff',
  grid:grids, xAxis:xAxes, yAxis:yAxes, series:series,
  legend:legends,
  graphic:graphics,
  tooltip:{show:false}
});
</script></body></html>
